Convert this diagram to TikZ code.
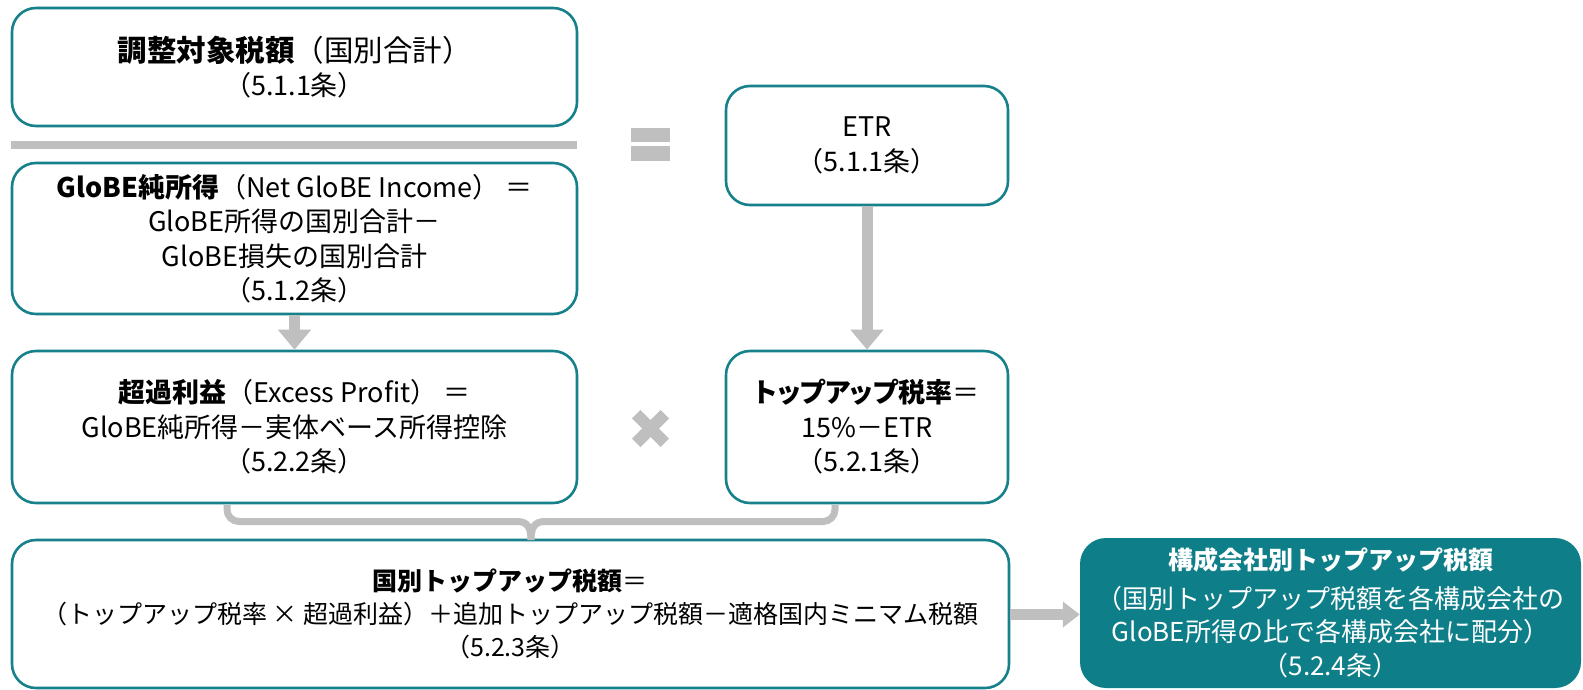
\documentclass[tikz,border=0pt]{standalone}
\usepackage{fontspec}
\setmainfont{Noto Sans CJK JP}
\usetikzlibrary{arrows.meta}
\definecolor{tealc}{RGB}{22,128,139}
\definecolor{tealf}{RGB}{14,127,137}
\definecolor{grayc}{RGB}{191,191,191}
\begin{document}
\begin{tikzpicture}[x=1pt,y=-1pt,
  box/.style={draw=tealc, line width=2.6pt, rounded corners=24pt, fill=white,
    align=center, inner sep=0pt, font=\fontsize{27}{34.5}\selectfont},
  tealbox/.style={fill=tealf, rounded corners=26pt, align=center, inner sep=0pt,
    text=white, font=\fontsize{26}{33.5}\selectfont},
  downarrow/.style={draw=grayc, line width=11pt, -{Triangle[width=32pt,length=20pt]}},
  rightarrow/.style={draw=grayc, line width=11pt, -{Triangle[width=25pt,length=17pt]}},
  bracepath/.style={draw=grayc, line width=7pt, rounded corners=12pt},
  symb/.style={fill=grayc}
]
\useasboundingbox (0,0) rectangle (1583,689);

% boxes
\node[box, minimum width=565pt, minimum height=118pt] (b1) at (294.5,67)
  {{\fontsize{29.5}{34.5}\selectfont\textbf{調整対象税額}（国別合計）}\\（5.1.1条）};
\node[box, minimum width=565pt, minimum height=151pt] (b2) at (294.5,238.5)
  {\textbf{GloBE純所得}（Net GloBE Income）\ ＝\\GloBE所得の国別合計－\\GloBE損失の国別合計\\（5.1.2条）};
\node[box, minimum width=565pt, minimum height=152pt] (b3) at (294.5,427)
  {\textbf{超過利益}（Excess Profit）\ ＝\\GloBE純所得－実体ベース所得控除\\（5.2.2条）};
\node[box, minimum width=282pt, minimum height=119pt] (etr) at (867,145.5)
  {ETR\\（5.1.1条）};
\node[box, minimum width=282pt, minimum height=152pt] (rate) at (867,427)
  {{\addfontfeatures{RawFeature=+palt}\textbf{トップアップ税率}＝}\\15\%－ETR\\（5.2.1条）};
\node[box, minimum width=997pt, minimum height=148pt, font=\fontsize{25}{33.3}\selectfont] (bot) at (510.5,614)
  {\textbf{国別トップアップ税額}＝\\（トップアップ税率 × 超過利益）＋追加トップアップ税額－適格国内ミニマム税額\\（5.2.3条）};
\node[tealbox, minimum width=501pt, minimum height=150pt] (ce) at (1330.5,613)
  {{\fontsize{25}{33.5}\selectfont\bfseries 構成会社別トップアップ税額}\\[5pt]（国別トップアップ税額を各構成会社の\\GloBE所得の比で各構成会社に配分）\\（5.2.4条）};

% separator (fraction bar)
\fill[symb] (11,141) rectangle (577,149);

% equals sign
\fill[symb] (631,128) rectangle (670,142);
\fill[symb] (631,146) rectangle (670,161);

% times sign
\draw[grayc, line width=12pt] (636.2,414.2) -- (664.8,442.8);
\draw[grayc, line width=12pt] (664.8,414.2) -- (636.2,442.8);

% arrows
\draw[downarrow] (b2.south) -- (b3.north);
\draw[downarrow] (etr.south) -- (rate.north);
\draw[rightarrow] (bot.east |- 0,614.5) -- (ce.west |- 0,614.5);

% brace
\coordinate (bl) at (227,505);
\coordinate (br) at (835,505);
\coordinate (tip) at (531,540);
\draw[bracepath] (bl) |- (517,521.5);
\draw[draw=grayc, line width=7pt] (517,521.5) .. controls (527,521.5) and (531,527) .. (tip);
\draw[bracepath] (br) |- (545,521.5);
\draw[draw=grayc, line width=7pt] (545,521.5) .. controls (535,521.5) and (531,527) .. (tip);
\end{tikzpicture}
\end{document}
